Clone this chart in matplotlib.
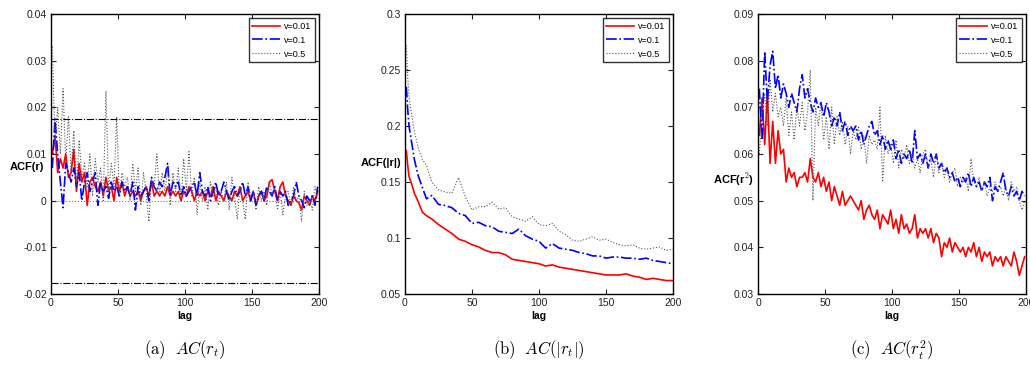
import matplotlib
matplotlib.use("Agg")
import matplotlib.pyplot as plt
import numpy as np
from matplotlib.ticker import FuncFormatter

plt.rcParams["font.family"] = ["Liberation Sans Narrow", "Liberation Sans", "DejaVu Sans"]
plt.rcParams["mathtext.fontset"] = "cm"

# lags (every second lag for the noisy panels)
lags_ac = np.arange(1, 200, 2)
lags_abs = [1, 2, 3, 5, 7, 10, 13, 16, 20, 25, 30, 35, 40, 45, 50, 55, 60, 65, 70, 75,
            80, 85, 90, 95, 100, 105, 110, 115, 120, 125, 130, 135, 140, 145, 150, 155,
            160, 165, 170, 175, 180, 185, 190, 195, 200]

series_names = ["v=0.01", "v=0.1", "v=0.5"]

# (a) ACF(r)
acf_r_001 = [0.010, 0.014, 0.006, 0.009, 0.007, 0.010, 0.005, 0.006, 0.011, 0.002,
             0.008, 0.004, 0.006, -0.001, 0.004, 0.005, 0.003, 0.002, 0.004, 0.001,
             0.005, 0.002, 0.003, 0.000, 0.005, 0.002, 0.004, 0.001, 0.003, 0.001,
             0.002, 0.001, 0.002, 0.000, 0.002, 0.003, 0.001, 0.004, 0.001, 0.002,
             0.001, 0.002, 0.001, 0.003, 0.001, 0.002, 0.001, 0.002, 0.000, 0.002,
             0.001, 0.003, 0.002, 0.000, 0.002, 0.001, 0.002, 0.000, 0.002, 0.001,
             0.003, 0.000, 0.002, 0.001, 0.000, 0.002, 0.001, 0.000, 0.002, 0.001,
             0.003, 0.000, 0.001, 0.002, 0.000, 0.002, -0.001, 0.001, 0.002, 0.000,
             0.001, 0.004, 0.0045, 0.002, 0.000, 0.003, 0.004, 0.001, 0.000, -0.001,
             0.001, 0.000, -0.0005, -0.002, 0.001, 0.000, -0.001, 0.001, 0.000, 0.002]
acf_r_01 = [0.007, 0.0175, 0.010, 0.004, -0.0015, 0.008, 0.006, 0.004, 0.007, 0.003,
            0.006, 0.000, 0.004, 0.006, 0.002, 0.004, 0.006, -0.001, 0.004, 0.002,
            0.003, 0.0005, 0.004, 0.002, 0.003, 0.001, 0.004, 0.002, 0.003, 0.001,
            0.004, -0.002, 0.003, 0.001, 0.002, 0.003, 0.000, 0.005, 0.003, 0.002,
            0.004, 0.003, 0.005, 0.008, 0.001, 0.004, 0.003, 0.004, 0.001, 0.003,
            0.001, 0.002, 0.003, 0.004, 0.001, 0.006, 0.002, 0.001, 0.003, 0.000,
            0.002, 0.004, 0.001, 0.002, 0.004, 0.002, 0.000, 0.002, 0.003, 0.001,
            0.002, 0.004, 0.001, 0.003, 0.000, 0.002, -0.001, 0.001, 0.002, 0.000,
            0.003, 0.002, 0.001, 0.003, 0.000, 0.002, 0.001, 0.002, -0.001, 0.000,
            0.001, 0.004, 0.001, 0.000, -0.0015, 0.001, 0.000, 0.001, -0.001, 0.003]
acf_r_05 = [0.033, 0.012, 0.020, 0.010, 0.024, 0.008, 0.018, 0.006, 0.015, 0.003,
            0.013, 0.005, 0.008, 0.003, 0.010, 0.001, 0.009, 0.004, 0.007, 0.000,
            0.0235, 0.002, 0.008, 0.003, 0.018, 0.001, 0.006, 0.003, 0.005, 0.000,
            0.008, 0.002, 0.007, -0.001, 0.006, 0.002, -0.0045, 0.005, 0.003, 0.010,
            0.001, 0.006, 0.002, 0.007, -0.001, 0.006, 0.002, 0.007, 0.000, 0.009,
            0.002, 0.0105, 0.001, 0.005, -0.003, 0.004, 0.000, 0.003, -0.002, 0.004,
            0.001, 0.003, -0.001, 0.002, 0.000, 0.004, -0.002, 0.005, 0.001, -0.004,
            0.003, 0.000, -0.004, 0.004, 0.001, 0.002, -0.002, 0.003, 0.000, 0.002,
            -0.001, 0.004, 0.001, 0.003, -0.002, 0.002, -0.003, 0.001, 0.002, -0.001,
            0.003, 0.000, 0.001, -0.0045, 0.002, -0.001, 0.000, -0.002, 0.003, 0.001]
conf_bound = 0.0176

# (b) ACF(|r|)
acf_abs_001 = [0.178, 0.165, 0.155, 0.148, 0.140, 0.132, 0.123, 0.120, 0.117, 0.112,
               0.108, 0.104, 0.099, 0.097, 0.094, 0.092, 0.089, 0.087, 0.087, 0.085,
               0.081, 0.080, 0.079, 0.078, 0.077, 0.075, 0.076, 0.074, 0.073, 0.072,
               0.071, 0.070, 0.069, 0.068, 0.067, 0.067, 0.067, 0.068, 0.066, 0.065,
               0.063, 0.064, 0.063, 0.062, 0.062]
acf_abs_01 = [0.235, 0.215, 0.200, 0.185, 0.170, 0.155, 0.145, 0.135, 0.138, 0.130,
              0.129, 0.127, 0.122, 0.120, 0.113, 0.114, 0.111, 0.110, 0.106, 0.105,
              0.104, 0.108, 0.102, 0.099, 0.097, 0.091, 0.095, 0.091, 0.090, 0.089,
              0.087, 0.086, 0.084, 0.084, 0.082, 0.083, 0.083, 0.082, 0.082, 0.081,
              0.082, 0.080, 0.079, 0.078, 0.077]
acf_abs_05 = [0.272, 0.245, 0.225, 0.210, 0.195, 0.180, 0.170, 0.165, 0.150, 0.143,
              0.141, 0.140, 0.154, 0.137, 0.125, 0.128, 0.128, 0.132, 0.126, 0.127,
              0.119, 0.117, 0.115, 0.119, 0.112, 0.111, 0.113, 0.106, 0.103, 0.098,
              0.097, 0.099, 0.101, 0.098, 0.099, 0.096, 0.094, 0.093, 0.094, 0.091,
              0.090, 0.091, 0.092, 0.089, 0.090]

# (c) ACF(r^2)
acf_sq_001 = [0.064, 0.072, 0.062, 0.073, 0.058, 0.067, 0.058, 0.065, 0.060, 0.061,
              0.054, 0.057, 0.055, 0.056, 0.053, 0.055, 0.055, 0.056, 0.054, 0.059,
              0.055, 0.054, 0.056, 0.053, 0.055, 0.052, 0.054, 0.050, 0.053, 0.051,
              0.049, 0.052, 0.049, 0.050, 0.051, 0.050, 0.049, 0.048, 0.050, 0.046,
              0.048, 0.049, 0.047, 0.046, 0.048, 0.044, 0.047, 0.046, 0.045, 0.048,
              0.044, 0.046, 0.043, 0.047, 0.044, 0.045, 0.043, 0.044, 0.047, 0.042,
              0.044, 0.043, 0.044, 0.042, 0.044, 0.041, 0.043, 0.042, 0.038, 0.041,
              0.040, 0.042, 0.039, 0.041, 0.040, 0.039, 0.040, 0.038, 0.040, 0.039,
              0.041, 0.038, 0.040, 0.037, 0.039, 0.038, 0.039, 0.036, 0.038, 0.037,
              0.038, 0.036, 0.038, 0.037, 0.036, 0.039, 0.037, 0.034, 0.036, 0.038]
acf_sq_01 = [0.074, 0.063, 0.082, 0.071, 0.079, 0.082, 0.074, 0.077, 0.072, 0.075,
             0.073, 0.070, 0.073, 0.071, 0.069, 0.074, 0.077, 0.072, 0.074, 0.071,
             0.069, 0.072, 0.070, 0.071, 0.068, 0.071, 0.069, 0.066, 0.068, 0.066,
             0.069, 0.065, 0.067, 0.064, 0.066, 0.065, 0.066, 0.063, 0.065, 0.062,
             0.064, 0.066, 0.067, 0.064, 0.065, 0.062, 0.064, 0.061, 0.063, 0.061,
             0.063, 0.059, 0.061, 0.058, 0.060, 0.059, 0.061, 0.058, 0.065, 0.059,
             0.060, 0.058, 0.060, 0.057, 0.060, 0.058, 0.060, 0.057, 0.058, 0.056,
             0.057, 0.055, 0.056, 0.054, 0.055, 0.053, 0.055, 0.054, 0.056, 0.053,
             0.055, 0.053, 0.054, 0.052, 0.054, 0.053, 0.055, 0.050, 0.053, 0.052,
             0.054, 0.056, 0.052, 0.051, 0.053, 0.051, 0.052, 0.050, 0.052, 0.051]
acf_sq_05 = [0.060, 0.068, 0.073, 0.066, 0.076, 0.069, 0.073, 0.068, 0.070, 0.066,
             0.072, 0.064, 0.069, 0.063, 0.070, 0.066, 0.071, 0.065, 0.069, 0.078,
             0.050, 0.070, 0.066, 0.071, 0.063, 0.068, 0.061, 0.070, 0.062, 0.068,
             0.064, 0.067, 0.062, 0.066, 0.060, 0.065, 0.063, 0.066, 0.061, 0.064,
             0.058, 0.064, 0.062, 0.063, 0.061, 0.070, 0.054, 0.064, 0.060, 0.062,
             0.058, 0.063, 0.057, 0.061, 0.059, 0.062, 0.058, 0.060, 0.057, 0.059,
             0.056, 0.060, 0.061, 0.057, 0.059, 0.055, 0.060, 0.056, 0.058, 0.055,
             0.057, 0.054, 0.056, 0.057, 0.053, 0.055, 0.054, 0.055, 0.052, 0.059,
             0.054, 0.053, 0.055, 0.052, 0.054, 0.051, 0.053, 0.052, 0.054, 0.052,
             0.053, 0.051, 0.053, 0.050, 0.054, 0.052, 0.053, 0.050, 0.048, 0.050]

panels = [
    dict(x=lags_ac, ys=[acf_r_001, acf_r_01, acf_r_05], ylim=(-0.02, 0.04),
         yticks=[-0.02, -0.01, 0, 0.01, 0.02, 0.03, 0.04], ylabel="ACF(r)",
         caption=r"$\mathrm{(a)}\ \ AC(r_t)$", left=51, ylab_y=0.455),
    dict(x=lags_abs, ys=[acf_abs_001, acf_abs_01, acf_abs_05], ylim=(0.05, 0.3),
         yticks=[0.05, 0.1, 0.15, 0.2, 0.25, 0.3], ylabel="ACF(|r|)",
         caption=r"$\mathrm{(b)}\ \ AC(|r_t|)$", left=405, ylab_y=0.468),
    dict(x=lags_ac, ys=[acf_sq_001, acf_sq_01, acf_sq_05], ylim=(0.03, 0.09),
         yticks=[0.03, 0.04, 0.05, 0.06, 0.07, 0.08, 0.09], ylabel=r"ACF(r$^2$)",
         caption=r"$\mathrm{(c)}\ \ AC(r_t^2)$", left=758, ylab_y=0.41),
]

styles = [dict(color="#ff0000", ls="-", lw=1.2),
          dict(color="#0000ff", ls="-.", lw=1.2),
          dict(color="#555555", ls=":", lw=0.8)]

W, H = 1030, 374
fig = plt.figure(figsize=(W / 100, H / 100), dpi=100)

for p in panels:
    ax = fig.add_axes([p["left"] / W, (H - 294) / H, 268 / W, 280 / H])
    for y, st, name in zip(p["ys"], styles, series_names):
        ax.plot(p["x"], y, label=name, **st)
    if p["ylabel"] == "ACF(r)":
        ax.axhline(conf_bound, color="k", ls="-.", lw=0.8)
        ax.axhline(-conf_bound, color="k", ls="-.", lw=0.8)
        ax.axhline(0, color="#6666ff", ls=":", lw=0.8, zorder=0)
    ax.set_xlim(0, 200)
    ax.set_ylim(*p["ylim"])
    ax.set_xticks([0, 50, 100, 150, 200])
    ax.set_yticks(p["yticks"])
    ax.yaxis.set_major_formatter(FuncFormatter(lambda v, pos: "%g" % round(v, 4)))
    ax.tick_params(direction="in", top=True, right=True, length=3.5, width=0.8,
                   labelsize=7.5, colors="#222222", pad=3)
    for s in ax.spines.values():
        s.set_linewidth(1.0)
    ax.set_xlabel("lag", fontsize=7.5, fontweight="bold", labelpad=2)
    ax.set_ylabel(p["ylabel"], fontsize=8, fontweight="bold", rotation=0,
                  ha="center", va="center")
    ax.yaxis.set_label_coords(-0.09, p["ylab_y"])
    leg = ax.legend(loc="upper right", fontsize=6.5, handlelength=3.0, frameon=True,
                    fancybox=False, borderaxespad=0.45, labelspacing=0.55,
                    borderpad=0.4, handletextpad=0.5)
    leg.get_frame().set_edgecolor("k")
    leg.get_frame().set_linewidth(1.0)
    fig.text((p["left"] + 134) / W, 1 - 350 / H, p["caption"], ha="center",
             va="center", fontsize=12)

fig.savefig("out.png", dpi=100)
